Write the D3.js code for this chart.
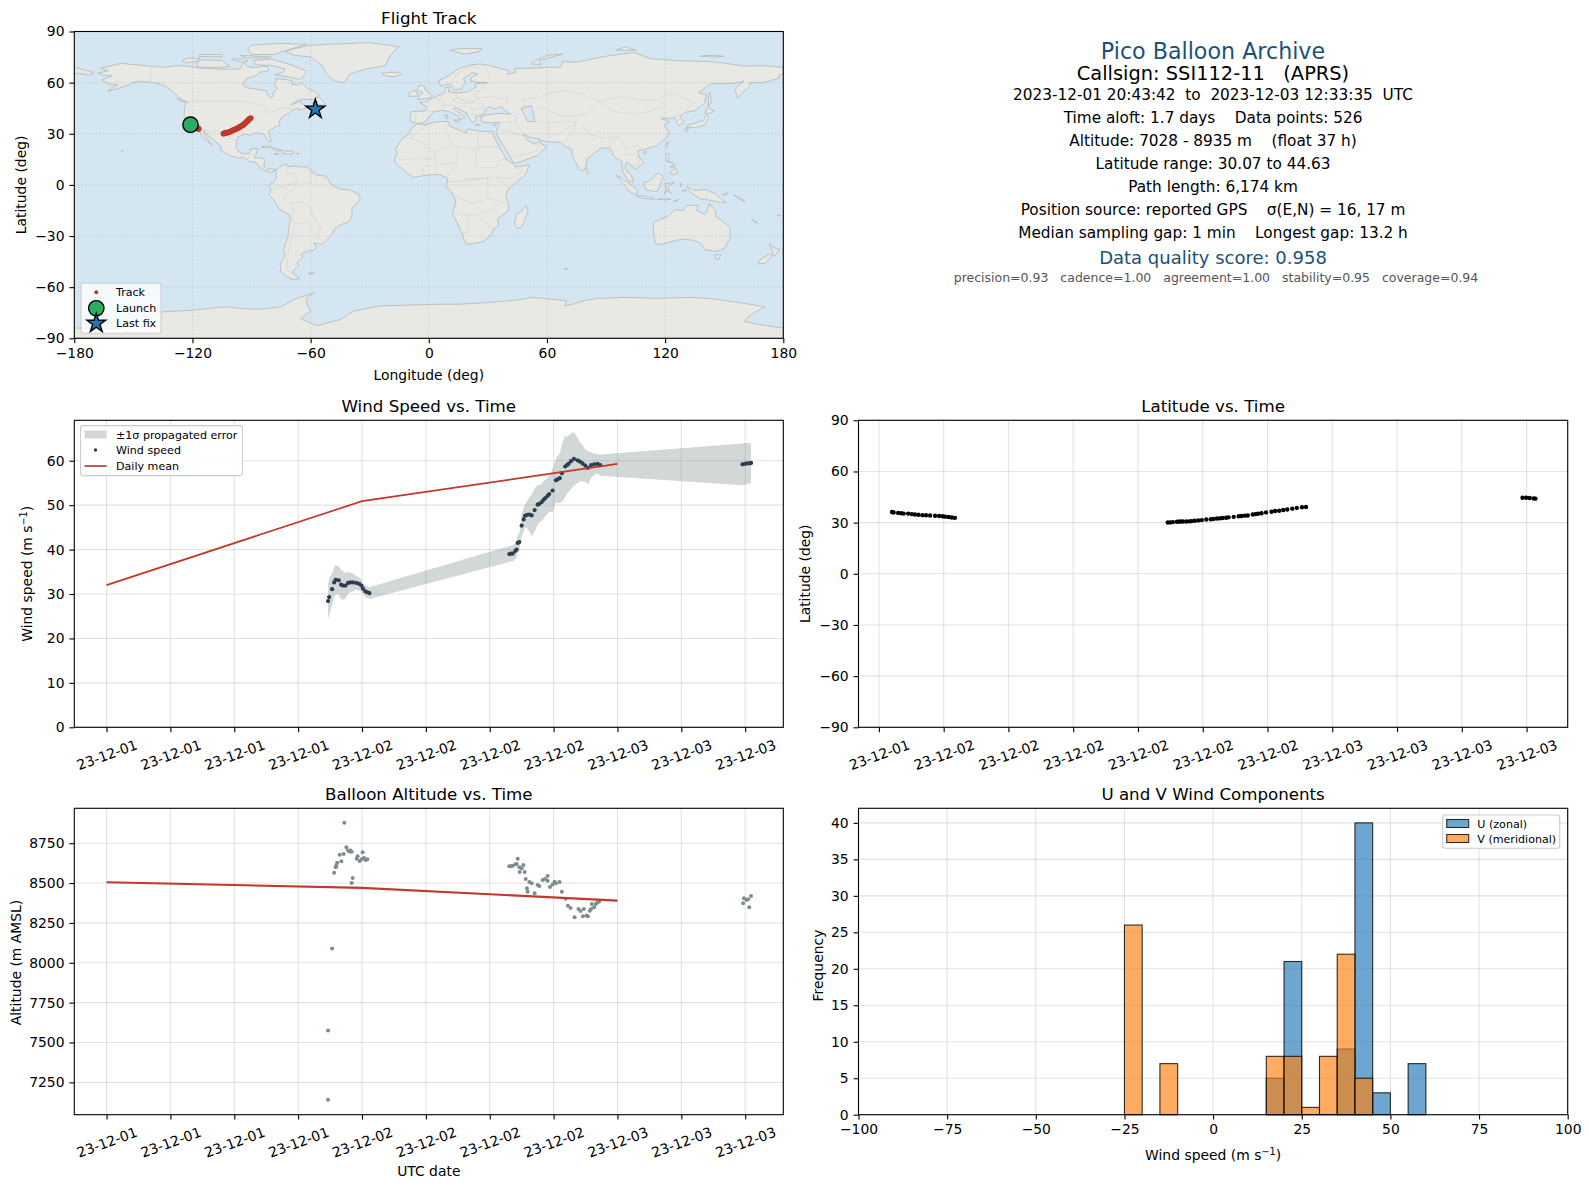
<!DOCTYPE html>
<html lang="en">
<head>
<meta charset="UTF-8">
<title>Pico Balloon Archive</title>
<style>
  body { margin: 0; background: #fff; }
  text { font-family: "DejaVu Sans", sans-serif; fill: #000; }
</style>
</head>
<body>
<div id="chart"></div>
<script src="https://cdn.jsdelivr.net/npm/d3@7"></script>
<script>
// hours since 2023-12-01 00:00 UTC for each sample
const sampleHours = [20.81,20.91,21.19,21.38,21.53,21.81,22.03,22.22,22.44,22.69,22.91,23.16,23.47,23.72,23.94,24.09,24.31,24.5,24.69,
  37.84,38.0,38.16,38.41,38.53,38.63,38.78,39.0,39.19,39.31,39.5,39.72,39.94,40.22,40.5,40.66,40.88,41.06,41.22,41.44,41.59,41.91,42.22,42.38,42.59,42.78,43.09,43.25,43.41,43.63,43.91,44.25,44.47,44.72,44.97,45.22,45.53,45.81,46.13,46.38,
  59.75,59.97,60.19,60.44,60.55];
const windSpeed = [28.4,29.3,31.1,32.6,33.2,33.1,32.1,31.9,31.9,32.5,32.6,32.6,32.5,32.3,31.9,31.2,30.6,30.4,30.2,
  39.0,39.1,39.1,39.7,40.0,41.5,41.7,45.4,46.8,47.6,47.8,47.9,47.7,48.9,50.1,50.3,50.7,51.2,51.6,52.1,52.5,53.3,55.6,55.8,56.1,57.2,58.7,59.0,59.3,59.9,60.4,60.1,59.8,59.4,58.9,58.4,59.0,59.2,59.3,59.0,
  59.2,59.3,59.4,59.4,59.5];
const windSigma = [3.9,4.2,3.6,3.4,3.2,3.2,3.3,3.2,2.9,2.5,2.2,2.0,1.5,1.5,1.3,1.1,1.3,1.3,1.3,
  1.8,1.8,1.8,1.8,1.8,1.9,1.9,2.6,2.6,2.6,3.0,3.9,4.7,4.9,4.5,4.2,4.2,4.2,4.1,4.1,4.0,4.9,4.9,5.3,5.6,6.5,6.9,6.4,6.4,6.3,6.0,5.1,4.4,4.1,3.7,3.7,2.9,2.4,2.2,2.4,
  4.7,4.7,4.6,4.5,4.5];
const latitudes = [36.2,35.9,35.7,35.5,35.3,35.3,35.0,34.8,34.6,34.4,34.3,34.2,34.0,33.9,33.7,33.5,33.3,33.0,32.8,
  30.07,30.15,30.3,30.5,30.6,30.7,30.7,30.7,30.75,30.9,31.1,31.3,31.5,31.8,32.0,32.2,32.4,32.5,32.7,32.9,33.1,33.4,33.7,33.9,34.1,34.2,34.8,35.0,35.2,35.5,36.0,36.4,36.8,37.0,37.4,37.7,38.2,38.6,39.0,39.2,
  44.63,44.6,44.4,44.2,44.1];
const longitudes = [-121,-120.8,-120.6,-120.4,-120.1,-119.9,-119.6,-119.4,-119.1,-118.9,-118.7,-118.5,-118.3,-118.1,-117.8,-117.6,-117.3,-117.1,-116.8,
  -104.3,-104,-103.7,-103.3,-103,-102.8,-102.5,-102.2,-101.8,-101.5,-101.1,-100.8,-100.4,-100,-99.6,-99.2,-98.9,-98.5,-98.1,-97.7,-97.3,-96.9,-96.5,-96.2,-95.8,-95.5,-95,-94.6,-94.3,-93.9,-93.5,-93.1,-92.8,-92.5,-92.2,-91.9,-91.5,-91.2,-90.8,-90.4,
  -58.6,-58.2,-57.9,-57.7,-57.4];

const launchPoint = [-121, 35.3];
const lastFixPoint = [-57.6, 44.4];

// daily means
const dailyHours = [0, 24, 48];
const dailyWind = [32, 50.9, 59.3];
const dailyAltitude = [8505, 8470, 8390];

const altitudeHours = [20.81,20.81,21.19,21.38,21.53,21.59,21.66,21.91,22.06,22.28,22.53,22.69,22.84,22.91,23.03,23.5,23.59,23.78,23.97,24.06,24.19,24.34,24.5,23.12,23.03,
  37.84,38.0,38.16,38.41,38.53,38.63,38.78,38.81,39.0,39.16,39.28,39.38,39.72,39.94,40.22,39.5,39.56,40.5,40.66,40.97,41.19,41.44,41.44,41.66,41.91,42.09,42.22,42.56,42.78,43.13,43.34,43.59,43.97,44.34,44.53,44.75,44.84,45.09,45.22,45.41,45.53,45.59,45.81,45.97,46.13,46.28,
  59.81,59.88,60.13,60.28,60.55,60.38];
const altitudes = [7140,7575,8090,8564,8599,8610,8627,8677,8637,8683,8725,8704,8698,8704,8696,8652,8668,8639,8650,8694,8658,8645,8650,8532,8501,
  8606,8606,8608,8616,8620,8652,8599,8570,8593,8614,8570,8526,8507,8499,8436,8468,8445,8488,8482,8520,8526,8545,8514,8476,8491,8509,8499,8507,8445,8401,8357,8344,8286,8338,8325,8292,8338,8296,8292,8327,8338,8369,8349,8369,8380,8384,
  8373,8404,8394,8398,8419,8348];
const topAltitude = [[22.34, 8878]];

// histogram counts, left bin edge in m/s
const binWidth = 5;
const uEdges = [15, 20, 35, 40, 45, 55];
const uCounts = [5, 21, 9, 40, 3, 7];
const vEdges = [-25, -15, 15, 20, 25, 30, 35, 40];
const vCounts = [26, 7, 8, 8, 1, 8, 22, 5];

const infoLines = [
  "Pico Balloon Archive",
  "Callsign: SSI112-11   (APRS)",
  "2023-12-01 20:43:42  to  2023-12-03 12:33:35  UTC",
  "Time aloft: 1.7 days    Data points: 526",
  "Altitude: 7028 - 8935 m    (float 37 h)",
  "Latitude range: 30.07 to 44.63",
  "Path length: 6,174 km",
  "Position source: reported GPS    σ(E,N) = 16, 17 m",
  "Median sampling gap: 1 min    Longest gap: 13.2 h",
  "Data quality score: 0.958",
  "precision=0.93   cadence=1.00   agreement=1.00   stability=0.95   coverage=0.94"
];

// coastlines, rough lon/lat outlines
const landPolygons = [
  // North + Central America
  [[-168,65.6],[-162.5,67],[-166.8,68.3],[-156.5,71.3],[-148,70.4],[-141,69.6],[-135,69],[-128,70],[-124,69.8],[-115,68.5],[-108,68],[-102,67.8],[-96,68],[-94,71.8],[-92,69.5],[-88,68.8],[-85,69.5],[-82,69.5],[-81.5,67],[-86,66],[-87,64.5],[-93,62],[-94.5,59],[-92.5,57],[-88,56.3],[-82.5,55.2],[-82,52.9],[-80,51.2],[-79,52],[-79,54.5],[-76.8,56.5],[-78.5,58.8],[-77.5,60.5],[-78,62.4],[-73,62],[-69.5,61],[-69.5,59],[-66,58.8],[-64.5,60.3],[-61.5,56.5],[-57.5,54.5],[-55.8,52.5],[-59,50],[-64,50.3],[-67,49.3],[-70,47],[-65,49],[-64.5,47.5],[-61,46],[-60,46],[-63.5,44.7],[-66,43.8],[-66,45],[-70,43.7],[-70.7,42],[-74,40.6],[-75.5,38],[-76,36.8],[-75.5,35.2],[-78,33.9],[-81,32],[-81.3,30],[-80,26.8],[-80.3,25.2],[-81.8,26],[-82.8,28],[-84,30],[-86,30.4],[-89,30.3],[-90,29.2],[-93.5,29.7],[-97,28],[-97.5,25],[-97.8,22.3],[-96,19],[-94,18.2],[-91,18.7],[-90.5,21],[-87,21.5],[-87.7,18],[-88.7,16],[-86,15.9],[-83.3,15],[-83.7,11],[-82,9],[-79.8,9.5],[-77.4,8.7],[-78.5,8.5],[-80,7.3],[-83,8.3],[-85.7,10],[-87.5,13],[-91.5,14],[-94,16],[-97,15.8],[-101.5,17.5],[-105.5,20],[-105.5,22.5],[-109,26],[-112.5,29.5],[-114.7,31.7],[-113,28],[-110,23],[-112,25],[-115,28.5],[-117.2,32.5],[-120.5,34.5],[-122.5,37.5],[-124.3,40.4],[-124,46],[-122.5,48.5],[-125,50],[-128,52.5],[-130.5,55],[-134,58],[-139,59.8],[-146,60.8],[-151,60],[-152,58.8],[-158,56.5],[-163,54.9],[-158,58.7],[-162,59],[-166,61.5],[-161,64],[-166,64.5]],
  // arctic Canada and Greenland
  [[-80,73.7],[-71,71],[-67,69],[-62,66.8],[-64,63],[-66,62],[-72,63.5],[-78,64.5],[-74,66],[-73,68],[-79,70],[-88,70.5],[-89,73]],
  [[-117,69],[-105,69],[-101,69.5],[-105,73],[-115,73.5],[-118,71.5]],
  [[-124,71.5],[-118,72.5],[-116,74],[-122,74.5],[-125,73]],
  [[-90,76.5],[-78,76.5],[-75,78],[-65,81.5],[-62,82.5],[-75,83],[-90,82],[-92,80]],
  [[-96,76],[-80,75],[-81,74.5],[-92,74.5]],
  [[-117,75.5],[-105,75],[-105,76.5],[-116,76.5]],
  [[-100,73.8],[-95,72],[-92,72.8],[-94,74]],
  [[-73,78.2],[-68,76],[-60,75],[-54,70],[-52,65],[-48,61],[-43,59.9],[-40,65],[-32,68],[-22,70],[-20,75],[-18,78],[-15,81],[-30,83.5],[-50,82.5],[-60,82],[-68,80]],
  [[-59,47.7],[-53,46.7],[-52.7,48],[-55.7,51.5],[-57.5,50.7]],
  [[-128,50.8],[-123.5,48.4],[-125,48.8]],
  [[-24,65.5],[-22,64],[-18,63.4],[-14,64.5],[-15,66.2],[-20,66]],
  [[-85,22],[-82,23.1],[-77,21],[-74.2,20.2],[-77.7,19.9],[-80,21.8],[-83,22]],
  [[-74.4,18.5],[-73,19.9],[-69,19.7],[-68.4,18.6],[-71,18]],
  [[-78.3,18.3],[-76.3,18.2],[-77,17.8]],
  [[-67.2,18.5],[-65.7,18.4],[-66.5,18]],
  [[-156,20.2],[-155,19.7],[-155.7,19]],
  [[-180,69],[-175,67.5],[-170,66],[-172.5,64.5],[-178,65.5],[-180,65]],
  // South America
  [[-77.4,8.7],[-75,11],[-72,12.2],[-71.5,10.8],[-68,11],[-64,10.5],[-62,10.7],[-60,8.5],[-57,6],[-52,5],[-50,1],[-48,-1],[-44,-2.7],[-40,-2.9],[-37,-4.8],[-35,-6],[-35,-9],[-37.5,-12],[-39,-14],[-39,-18],[-41,-22],[-44,-23],[-48,-26],[-48.7,-28.5],[-52,-32.5],[-54,-34.8],[-57,-34.5],[-58.3,-34],[-57,-36.5],[-58,-38.3],[-62,-39],[-65,-41],[-64,-42.7],[-67,-45.5],[-66,-47.5],[-69,-50.5],[-68.5,-52.5],[-65.5,-55],[-69,-55.5],[-72,-54],[-75,-51],[-75.5,-46.5],[-73,-42],[-73.7,-38],[-71.5,-30],[-70.3,-20],[-71,-17.5],[-76,-14],[-78,-10],[-81.2,-5.5],[-80,-3],[-81,-1],[-80,1],[-78.8,1.7],[-77.3,4],[-77.5,7],[-78,8.5]],
  [[-61,-51.8],[-58,-51.5],[-58.5,-52.3],[-60.5,-52.3]],
  // Africa
  [[-5.9,35.8],[-2,35.2],[3,36.9],[10,37.3],[10.5,34.5],[15,32.4],[19,30.4],[20,32.8],[25,31.6],[30,31.2],[32.3,31.2],[32.5,29.8],[35,24],[37.3,19],[39.5,15],[43.2,12],[44,10.5],[51.2,11.8],[49,6],[44,1],[40,-3],[39,-6],[40.5,-11],[40.5,-15],[35,-20],[35.5,-24],[32.8,-26],[32,-29],[28,-33],[25,-34],[20,-34.8],[18.4,-34],[17,-29],[14.5,-22.5],[12,-17],[13.7,-10],[12,-5],[9,-1],[9.7,3.5],[8.5,4.6],[5,6],[1,6],[-4,5.2],[-7.5,4.4],[-11,6.8],[-13.5,9.5],[-16.7,12.5],[-17.5,14.7],[-16,19],[-17,21],[-13,27.8],[-10,30],[-9,33]],
  [[49.3,-12],[50.5,-15.5],[47,-25],[45,-25.5],[43.5,-23],[44.5,-17],[47,-15.5]],
  // Eurasia
  [[-9,37],[-9.5,38.7],[-9,43],[-2,43.4],[-1,46],[-4.7,48.3],[-1.5,48.7],[2,51],[4,52],[8,54],[8.5,57],[10.5,57.5],[10,54.5],[14,54],[19,54.4],[21,55.5],[24,57.3],[23.5,59.3],[30,60],[25,60.2],[21.5,61],[21.5,63],[25,65],[22,65.8],[17.5,62.3],[18.5,60],[16.5,56.5],[13,55.5],[11.5,58.5],[10.5,59.3],[6,58],[5,61],[10,64],[15,68],[20,70],[26,71],[31,70],[41,66.8],[40,64.8],[44,66],[44,68.3],[54,68.5],[60,69],[67,69],[68,72.5],[73,72],[75,72],[81,73.5],[90,75.5],[104,77.7],[113,74],[127,72.8],[140,72.5],[150,71.5],[160,69.7],[170,70],[180,69],[180,65],[178,64.5],[177.5,62.5],[170,60],[163,60],[163,58],[156.7,51],[155.5,56],[160,61],[155,59.5],[143,59.3],[137,54],[141,53],[140,48],[135,43.5],[130,42.5],[127.5,39.8],[129.5,37],[127,34.5],[126,36.8],[125,39.5],[121,39],[118,39],[122,37],[119.5,35],[122,31],[121,28],[116,23],[110,21],[106,20],[107,16],[109,13],[105,9],[103,11],[100.5,13.5],[99.5,10],[103,5],[104,1.3],[101,3],[98.5,8],[98,14],[94.5,16],[92,21.5],[88,21.7],[85,19.5],[80,15],[80,11],[78,8],[76,10],[73,17],[72.5,21],[69,22.5],[67,25],[61,25.2],[57,26],[56.5,27],[51,28],[48,30],[50,26.5],[51.5,25],[54,24],[56.3,26],[56.5,24.5],[59.8,22.5],[55,17],[45,13],[43.2,12.8],[39,21],[35,28],[34.2,31.3],[35.8,35.5],[36,36.7],[30,36.3],[27,37],[26.3,39.5],[29,41],[35,42],[41.5,41.5],[38,44.5],[37,46],[33.5,44.5],[30.5,46],[28,43],[28,41.3],[26,40.7],[23.5,40],[24,38],[22.5,36.5],[20,39.7],[19.4,42],[13.5,45.5],[12.3,44.5],[18.3,40],[16,38],[15.7,40],[10.5,43],[7,43.8],[3,43],[0,40],[-2,36.8],[-5.5,36]],
  [[130.9,34],[135,33.6],[140,35],[142,39.5],[141,41.3],[139.5,38],[136.5,36.8],[132,35.2]],
  [[140,42],[141.5,45.4],[145,43.5],[143,42]],
  [[130,33],[131.8,33.5],[131,31]],
  [[142,46],[143.5,49],[142.7,54.3],[142,52]],
  [[120.2,23],[121.5,25.3],[121,22]],
  [[108.7,19],[110.5,20],[110,18.2]],
  [[80,9.7],[81.8,7.5],[80.5,6],[79.8,8]],
  [[95.3,5.5],[98,4],[104,-1],[106,-3],[105.5,-5.9],[102,-4],[98.5,1]],
  [[105.5,-6.5],[108.5,-6.5],[114.5,-7.7],[114.5,-8.7],[106.5,-7.5]],
  [[109,1.5],[111,1.7],[116.5,7],[119,5],[117.7,1],[116,-4],[110.5,-3],[109.3,-0.5]],
  [[119.5,-5.5],[120.5,-2.5],[120,0.7],[125,1.5],[121,-1],[123,-5],[121,-3]],
  [[120.5,18.5],[122.3,18.3],[121.5,14],[124,13],[120.5,14]],
  [[122,7],[125.5,9.8],[126.5,7],[124,6]],
  [[122.5,10.5],[125,12.3],[125,10.5]],
  [[116,-8.4],[119,-8.3],[123,-8.3],[120,-8.9]],
  [[124,-10],[127,-8.4],[125,-9.5]],
  [[127.5,1.5],[128.5,0.5],[128,-1]],
  [[129,-3],[131,-3.2],[128.5,-3.6]],
  [[131,-0.8],[135,-3.3],[141,-2.7],[146,-5.5],[150.8,-10.5],[147,-10],[143,-9],[138,-8.3],[132.5,-4]],
  [[149,-5.7],[152,-4.2],[151,-6]],
  [[154.5,-5.5],[157,-7],[160,-9],[160.5,-10],[157,-8]],
  [[114,-22],[114,-26],[115,-34.3],[118,-35],[124,-33],[129,-31.7],[134,-32.5],[138,-34],[140,-38],[146,-39],[150,-37.5],[153,-31],[153,-25],[149,-21],[146,-19],[145.3,-15],[142.5,-10.8],[141.5,-15],[140,-17.5],[136,-15],[136.7,-12],[131,-12],[129,-15],[125,-14.5],[122,-18],[117,-20.5]],
  [[145,-41],[148.2,-41],[147.5,-43.5],[146,-43.5]],
  [[172.8,-34.5],[175.5,-37],[178.3,-37.7],[176,-41.5],[174.8,-41.3],[174.5,-39]],
  [[172.7,-40.6],[174.2,-41.7],[170.8,-46],[167,-46.3],[168,-44.2]],
  [[164,-20.2],[167,-22.3],[165.5,-21.7]],
  [[177,-17.5],[178.6,-18],[177.5,-18.3]],
  [[68.8,-49.2],[70.5,-49.2],[69.5,-49.8]],
  [[-5.5,50],[1.4,51.2],[1.7,52.7],[-2,56],[-2,57.7],[-5,58.6],[-6,56],[-3,54],[-5,52]],
  [[-10,52],[-6,52],[-5.6,54.7],[-8,55.2],[-10,54]],
  [[11,79],[18,76.7],[25,78],[27,80],[16,80]],
  [[52,71],[57,70.6],[56,73],[68,76.8],[60,76],[54,73]],
  [[95,79],[105,79],[100,81]],
  [[138,75.5],[145,75],[150,75.5],[142,76]],
  [[12.5,38],[15.5,38.2],[15,36.7]],
  [[8.3,41],[9.7,41],[9.5,39],[8.5,39]],
  [[23.5,35.4],[26.2,35.2],[24.5,35]],
  [[32.5,35],[34.5,35.6],[33.5,34.6]],
  // Antarctica
  [[-180,-84],[-155,-84],[-148,-78],[-135,-74.5],[-120,-73.5],[-103,-71.5],[-95,-72.5],[-85,-73],[-75,-71.5],[-68,-67],[-58,-63.2],[-62,-66],[-62,-70],[-60,-74],[-65,-78.5],[-57,-82.6],[-45,-79],[-38,-74],[-25,-71],[-10,-70.5],[5,-70],[16,-70],[30,-69],[45,-67.5],[53,-66],[62,-67],[70,-68],[69,-71],[73,-70],[80,-67.5],[87,-66.5],[100,-66],[115,-66.5],[134,-66],[145,-67],[160,-69.5],[170.7,-71.4],[163,-76.5],[160,-80],[168,-82],[180,-84],[180,-90],[-180,-90]]
];
const inlandSeas = [
  [[47,45],[52,46.5],[53,42],[54,37],[50,37.3],[49,40],[47.5,43]]
];
const countryBorders = [
  [[-141,69.6],[-141,60.3],[-135,59.5],[-130,55.5]],
  [[-123,49],[-95,49],[-89,48],[-83,46],[-82.5,42.5],[-79,43],[-75,45],[-71,45],[-69,47.3],[-67.5,45.5]],
  [[-117,32.5],[-114.8,32.5],[-111,31.3],[-106.5,31.7],[-103,29],[-99.5,27],[-97.3,25.9]],
  [[-92,14.6],[-91,17.5],[-89,17.9],[-88.3,18.4]],[[-89.2,14],[-87.5,15.8]],[[-85,11],[-83.7,11]],
  [[-71.5,12],[-72.5,7.5],[-67.5,6],[-67,1.5]],
  [[-60,8],[-60,1],[-67,1.5],[-70,-4],[-74,-7.5],[-70.5,-11],[-65,-10],[-60,-13.5],[-58,-20],[-54.5,-25.5],[-57.5,-30],[-53.5,-33.5]],
  [[-70,-18],[-68,-23],[-70,-33],[-71.5,-40],[-72,-50],[-69,-52]],
  [[-69,-11],[-69,-17],[-70,-18]],[[-80,-3.5],[-75,-1],[-79,1.4]],[[-68,-23],[-62,-22],[-57.5,-25.3],[-54.5,-25.5]],
  [[-57,6],[-57,2]],[[-52,5],[-54,2.3]],[[-67,1.5],[-75,-1]],[[-70,-4],[-75,-1]],
  [[-8.7,27.3],[-4,25],[3,19],[12,23.5],[25,20],[25,31.5]],[[-13,27.7],[-8.7,27.3],[-8.7,30]],[[-1,35],[-8.7,27.3]],[[10,37],[8,32],[9.5,30],[12,23.5]],
  [[25,22],[36.8,22]],[[24,20],[24,10],[34,10],[36,14.5],[39,15]],[[3,19],[4,12],[14,13],[15,23]],[[-17,15.5],[-12,15],[-5,15.5],[3,15]],[[4,12],[3,6.3]],[[-3,5],[-3,11],[2,11.5]],
  [[9,4.5],[14.5,12.5]],[[14,2],[30,4],[34,4.5],[42,4],[48,8],[43,11]],[[9.7,2.2],[16,2],[18,3.5],[30,4]],[[30,4],[30,-8],[40,-10.7]],[[12,-5.5],[22,-11],[30,-8]],
  [[12,-17.3],[25,-17.8],[33,-14],[34.5,-11.5]],[[20,-18],[20,-28],[17,-28.7]],[[25,-18],[29,-22.3],[32,-26]],[[34,4.5],[41,-1.7]],
  [[3,43],[-2,43.3]],[[-9,42],[-6.5,42],[-7,37.3]],[[2.5,51],[6,50],[8,49],[7,46.5],[7,44]],[[7,46.5],[13.5,46.7],[13.7,45.5]],[[7,54],[6.2,51]],
  [[14,54],[14.5,51],[12,50],[13.7,48.5],[17,48],[23,48],[24,51],[23,54.3]],[[14.5,51],[18.8,49.5],[23,49]],[[20,39.7],[22,41],[26,41.7],[28,42]],[[22,41],[22.5,44.5],[29,45.3]],
  [[17,48],[19,46],[22.5,44.5]],[[13.7,45.5],[19,46]],[[28,45.5],[27,48],[24,48]],[[24,51],[32,52],[40,50],[39,47]],[[23,54.3],[28,56],[28,59.5]],[[31,62],[29,69.5]],[[20.5,69],[25,69],[28,70]],[[12,60],[14,65],[20,69]],
  [[36,36.7],[44,37],[44.5,39.5],[41.5,41.5]],[[44.5,37],[46,33],[48,30]],[[42,37],[41,34],[39,32],[36,32.5]],[[35,29.5],[39,32]],[[39,32],[47,29],[48.5,28.5]],[[43,16.5],[52,19],[55,20],[56,24.5]],
  [[49,46],[47,50],[55,51],[61,54],[70,55],[77,53.5],[87,49]],[[87,49],[98,52],[107,50],[117,49.8],[120,47],[112,43],[105,41.7],[96,42.7],[91,45.5],[87,49]],[[117,49.8],[120,53.3],[126,53],[135,48.3],[131,45],[130.5,42.5]],
  [[53,42],[56,45],[58,45.5],[61,43.5],[66,41],[73,40],[80,42],[87,49]],[[54,37.5],[61,36.5],[67,37.3],[75,37]],[[61,36.5],[61,30],[66,29.5],[70,33],[75,37]],[[61.5,25],[61,30]],
  [[68.5,23.8],[71,28],[74,32],[75,37]],[[78,35],[81,30],[88,27.5],[97,28.5]],[[88,27.5],[88,22]],[[92,22],[92,25],[97,28.5]],[[97,28.5],[99,22],[101,21.5],[105,23],[108,21.6]],
  [[101,21.5],[100,18],[105,18],[107,15],[106,11],[102.5,12]],[[99,11],[101,6]],[[124.5,40],[130.5,42.5]],[[126.5,38],[128.5,38.5]],[[109.5,1.5],[115,3.5],[117.5,4.2]],[[141,-2.6],[141,-9]]
];

const mapLonTicks = [-180, -120, -60, 0, 60, 120, 180];
const mapLatTicks = [-90, -60, -30, 0, 30, 60, 90];
const latTicks = [-90, -60, -30, 0, 30, 60, 90];
const windTicks = [0, 10, 20, 30, 40, 50, 60];
const altTicks = [7250, 7500, 7750, 8000, 8250, 8500, 8750];
const histXTicks = [-100, -75, -50, -25, 0, 25, 50, 75, 100];
const histYTicks = [0, 5, 10, 15, 20, 25, 30, 35, 40];

const RED = "#c0392b", NAVY = "#2c3e50", GREY = "#7f8c8d", TITLE_BLUE = "#1a5276";

const svg = d3.select("#chart").append("svg")
  .attr("width", 1589).attr("height", 1189)
  .style("display", "block");

const toDate = h => new Date(Date.UTC(2023, 11, 1) + h * 3600000);
const fmtDate = d3.utcFormat("%y-%m-%d");

// panel boxes
const leftCol = [74.3, 783.3], rightCol = [858.5, 1567.7];
const row1 = [31.5, 338.3], row2 = [420.3, 727.3], row3 = [808.3, 1114.7];

function addFrame(xr, yr) {
  svg.append("rect").attr("x", xr[0]).attr("y", yr[0])
    .attr("width", xr[1] - xr[0]).attr("height", yr[1] - yr[0])
    .attr("fill", "none").attr("stroke", "#000").attr("stroke-width", 1.1);
}

function addGrid(g, x, y, xTicks, yTicks, dash, opacity) {
  const [x0, x1] = x.range(), [y1, y0] = y.range();
  g.selectAll(".vg").data(xTicks).join("line").attr("class", "vg")
    .attr("x1", d => x(d)).attr("x2", d => x(d)).attr("y1", y0).attr("y2", y1)
    .attr("stroke", "#b0b0b0").attr("stroke-width", 1.1).attr("stroke-opacity", opacity).attr("stroke-dasharray", dash);
  g.selectAll(".hg").data(yTicks).join("line").attr("class", "hg")
    .attr("x1", x0).attr("x2", x1).attr("y1", d => y(d)).attr("y2", d => y(d))
    .attr("stroke", "#b0b0b0").attr("stroke-width", 1.1).attr("stroke-opacity", opacity).attr("stroke-dasharray", dash);
}

function addAxes(x, y, xTicks, yTicks, xFormat, rotated) {
  const yBase = y.range()[0], xBase = x.range()[0];
  const gx = svg.append("g").attr("transform", `translate(0,${yBase})`)
    .call(d3.axisBottom(x).tickValues(xTicks).tickFormat(xFormat).tickSize(4.9).tickPadding(4.9).tickSizeOuter(0));
  const gy = svg.append("g").attr("transform", `translate(${xBase},0)`)
    .call(d3.axisLeft(y).tickValues(yTicks).tickFormat(d3.format("d")).tickSize(4.9).tickPadding(4.9).tickSizeOuter(0));
  [gx, gy].forEach(g => {
    g.select(".domain").remove();
    g.selectAll(".tick line").attr("stroke", "#000").attr("stroke-width", 1.1);
    g.selectAll("text").attr("font-size", 13.9).attr("font-family", "DejaVu Sans").attr("fill", "#000");
  });
  if (rotated) {
    gx.selectAll("text").attr("y", 0).attr("dy", "0.35em")
      .attr("text-anchor", "middle").attr("transform", "translate(0,27.6) rotate(-20)");
  }
}

function title(xr, yr, s) {
  svg.append("text").attr("x", (xr[0] + xr[1]) / 2).attr("y", yr[0] - 8)
    .attr("text-anchor", "middle").attr("font-size", 16.67).text(s);
}
function xLabel(xr, yPos, s, sup) {
  const t = svg.append("text").attr("x", (xr[0] + xr[1]) / 2).attr("y", yPos)
    .attr("text-anchor", "middle").attr("font-size", 13.9).text(s);
  if (sup) addSup(t, sup);
}
function yLabel(xPos, yMid, s, sup) {
  const t = svg.append("text")
    .attr("transform", `translate(${xPos},${yMid}) rotate(-90)`)
    .attr("text-anchor", "middle").attr("font-size", 13.9).text(s);
  if (sup) addSup(t, sup);
}
function addSup(t, sup) {
  t.append("tspan").attr("font-size", 9.7).attr("dy", -5).text(sup);
  t.append("tspan").attr("font-size", 13.9).attr("dy", 5).text(")");
}

function legendBox(x, y, w, h, op) {
  svg.append("rect").attr("x", x).attr("y", y).attr("width", w).attr("height", h).attr("rx", 2.5)
    .attr("fill", "#fff").attr("fill-opacity", op).attr("stroke", "#ccc").attr("stroke-width", 1.1);
}
function legendText(x, y, s) {
  svg.append("text").attr("x", x).attr("y", y).attr("dy", "0.35em").attr("font-size", 11.1).text(s);
}

// ---- Flight track map
{
  const x = d3.scaleLinear().domain([-180, 180]).range(leftCol);
  const y = d3.scaleLinear().domain([-90, 90]).range([row1[1], row1[0]]);
  svg.append("clipPath").attr("id", "mapclip").append("rect")
    .attr("x", leftCol[0]).attr("y", row1[0]).attr("width", leftCol[1] - leftCol[0]).attr("height", row1[1] - row1[0]);
  const g = svg.append("g").attr("clip-path", "url(#mapclip)");
  g.append("rect").attr("x", leftCol[0]).attr("y", row1[0]).attr("width", leftCol[1] - leftCol[0]).attr("height", row1[1] - row1[0])
    .attr("fill", "#d4e6f1");
  const geo = d3.line().x(d => x(d[0])).y(d => y(d[1]));
  g.selectAll(".land").data(landPolygons).join("path").attr("class", "land")
    .attr("d", d => geo(d) + "Z").attr("fill", "#e8e8e4").attr("stroke", "#b4b8b8").attr("stroke-width", 0.8);
  g.selectAll(".sea").data(inlandSeas).join("path").attr("class", "sea")
    .attr("d", d => geo(d) + "Z").attr("fill", "#d4e6f1").attr("stroke", "#b4b8b8").attr("stroke-width", 0.8);
  g.selectAll(".border").data(countryBorders).join("path").attr("class", "border")
    .attr("d", geo).attr("fill", "none").attr("stroke", "#d6d6d2").attr("stroke-width", 0.7);
  addGrid(g, x, y, mapLonTicks, mapLatTicks, "2,1.5", 0.3);
  g.selectAll(".trk").data(sampleHours).join("circle").attr("class", "trk")
    .attr("cx", (d, i) => x(longitudes[i])).attr("cy", (d, i) => y(latitudes[i])).attr("r", 2.8).attr("fill", RED);
  g.append("circle").attr("cx", x(launchPoint[0])).attr("cy", y(launchPoint[1])).attr("r", 7.7)
    .attr("fill", "#27ae60").attr("stroke", "#000").attr("stroke-width", 1.4);
  g.append("path").attr("d", d3.symbol(d3.symbolStar, 112)())
    .attr("transform", `translate(${x(lastFixPoint[0])},${y(lastFixPoint[1])})`)
    .attr("fill", "#1f77b4").attr("stroke", "#000").attr("stroke-width", 1.4);
  addFrame(leftCol, row1);
  addAxes(x, y, mapLonTicks, mapLatTicks, d3.format("d"));
  title(leftCol, row1, "Flight Track");
  xLabel(leftCol, 379.5, "Longitude (deg)");
  yLabel(26, (row1[0] + row1[1]) / 2, "Latitude (deg)");

  legendBox(81, 283.3, 80, 50, 0.8);
  svg.append("circle").attr("cx", 96.3).attr("cy", 292.3).attr("r", 2).attr("fill", RED);
  svg.append("circle").attr("cx", 96.3).attr("cy", 308.3).attr("r", 7.7).attr("fill", "#27ae60").attr("stroke", "#000").attr("stroke-width", 1.4);
  svg.append("path").attr("d", d3.symbol(d3.symbolStar, 112)()).attr("transform", "translate(96.3,323.3)")
    .attr("fill", "#1f77b4").attr("stroke", "#000").attr("stroke-width", 1.4);
  legendText(116, 292.3, "Track");
  legendText(116, 308.3, "Launch");
  legendText(116, 323.3, "Last fix");
}

// ---- Info block
{
  const infoX = [1213, 1213, 1213, 1213, 1213, 1213, 1213, 1213, 1213, 1213, 1216];
  const infoY = [51.5, 73, 94.2, 117.6, 140.9, 163.4, 186.5, 209.8, 233, 257.4, 277.7];
  const infoSize = [22.2, 19.4, 15.3, 15.3, 15.3, 15.3, 15.3, 15.3, 15.3, 18, 12.5];
  const infoColor = [TITLE_BLUE, "#000", "#000", "#000", "#000", "#000", "#000", "#000", "#000", TITLE_BLUE, "#555"];
  svg.selectAll(".info").data(infoLines).join("text").attr("class", "info")
    .attr("x", (d, i) => infoX[i]).attr("y", (d, i) => infoY[i]).attr("dy", "0.35em")
    .attr("text-anchor", "middle").attr("xml:space", "preserve")
    .style("white-space", "pre")
    .attr("font-size", (d, i) => infoSize[i]).style("fill", (d, i) => infoColor[i]).text(d => d);
}

// ---- Wind speed vs time
{
  const x = d3.scaleUtc().domain([toDate(-3.03), toDate(63.58)]).range(leftCol);
  const y = d3.scaleLinear().domain([0, 69.1]).range([row2[1], row2[0]]);
  const xTicks = d3.utcHour.every(6).range(toDate(0), toDate(61));
  const g = svg.append("g");
  addGrid(g, x, y, xTicks, windTicks, null, 0.35);
  const band = d3.area().x(d => x(toDate(sampleHours[d]))).y0(d => y(windSpeed[d] - windSigma[d])).y1(d => y(windSpeed[d] + windSigma[d]));
  g.append("path").attr("d", band(d3.range(sampleHours.length))).attr("fill", GREY).attr("fill-opacity", 0.35);
  g.selectAll(".pt").data(sampleHours).join("circle").attr("class", "pt")
    .attr("cx", d => x(toDate(d))).attr("cy", (d, i) => y(windSpeed[i])).attr("r", 2.1).attr("fill", NAVY);
  g.append("path").attr("fill", "none").attr("stroke", RED).attr("stroke-width", 1.7)
    .attr("d", d3.line().x(d => x(toDate(d))).y((d, i) => y(dailyWind[i]))(dailyHours));
  addFrame(leftCol, row2);
  addAxes(x, y, xTicks, windTicks, fmtDate, true);
  title(leftCol, row2, "Wind Speed vs. Time");
  yLabel(32, (row2[0] + row2[1]) / 2, "Wind speed (m s", "−1");

  legendBox(80.5, 425.6, 162, 50, 0.8);
  svg.append("rect").attr("x", 84.5).attr("y", 430.5).attr("width", 22).attr("height", 8).attr("fill", GREY).attr("fill-opacity", 0.35);
  svg.append("circle").attr("cx", 95.5).attr("cy", 450).attr("r", 1.7).attr("fill", NAVY);
  svg.append("line").attr("x1", 84.5).attr("x2", 106.5).attr("y1", 466).attr("y2", 466).attr("stroke", RED).attr("stroke-width", 1.7);
  legendText(116, 434.7, "±1σ propagated error");
  legendText(116, 450, "Wind speed");
  legendText(116, 466, "Daily mean");
}

// ---- Latitude vs time
{
  const x = d3.scaleUtc().domain([toDate(18.74), toDate(62.54)]).range(rightCol);
  const y = d3.scaleLinear().domain([-90, 90]).range([row2[1], row2[0]]);
  const xTicks = d3.utcHour.every(4).range(toDate(20), toDate(61));
  const g = svg.append("g");
  addGrid(g, x, y, xTicks, latTicks, null, 0.35);
  g.selectAll(".pt").data(sampleHours).join("circle").attr("class", "pt")
    .attr("cx", d => x(toDate(d))).attr("cy", (d, i) => y(latitudes[i])).attr("r", 2.2).attr("fill", "#000");
  addFrame(rightCol, row2);
  addAxes(x, y, xTicks, latTicks, fmtDate, true);
  title(rightCol, row2, "Latitude vs. Time");
  yLabel(810, (row2[0] + row2[1]) / 2, "Latitude (deg)");
}

// ---- Altitude vs time
{
  const x = d3.scaleUtc().domain([toDate(-3.03), toDate(63.58)]).range(leftCol);
  const y = d3.scaleLinear().domain([7047, 8969]).range([row3[1], row3[0]]);
  const xTicks = d3.utcHour.every(6).range(toDate(0), toDate(61));
  const g = svg.append("g");
  addGrid(g, x, y, xTicks, altTicks, null, 0.35);
  g.selectAll(".pt").data(altitudeHours).join("circle").attr("class", "pt")
    .attr("cx", d => x(toDate(d))).attr("cy", (d, i) => y(altitudes[i])).attr("r", 2).attr("fill", GREY);
  g.selectAll(".top").data(topAltitude).join("circle").attr("class", "top")
    .attr("cx", d => x(toDate(d[0]))).attr("cy", d => y(d[1])).attr("r", 2).attr("fill", GREY);
  g.append("path").attr("fill", "none").attr("stroke", RED).attr("stroke-width", 2.1)
    .attr("d", d3.line().x(d => x(toDate(d))).y((d, i) => y(dailyAltitude[i]))(dailyHours));
  addFrame(leftCol, row3);
  addAxes(x, y, xTicks, altTicks, fmtDate, true);
  title(leftCol, row3, "Balloon Altitude vs. Time");
  xLabel(leftCol, 1176, "UTC date");
  yLabel(21, (row3[0] + row3[1]) / 2 + 1, "Altitude (m AMSL)");
}

// ---- U / V histogram
{
  const x = d3.scaleLinear().domain([-100, 100]).range(rightCol);
  const y = d3.scaleLinear().domain([0, 42]).range([row3[1], row3[0]]);
  const g = svg.append("g");
  addGrid(g, x, y, histXTicks, histYTicks, null, 0.35);
  const bars = (edges, counts, color) => {
    g.append("g").selectAll("rect").data(edges).join("rect")
      .attr("x", d => x(d)).attr("width", d => x(d + binWidth) - x(d))
      .attr("y", (d, i) => y(counts[i])).attr("height", (d, i) => y(0) - y(counts[i]))
      .attr("fill", color).attr("fill-opacity", 0.65)
      .attr("stroke", "#000").attr("stroke-opacity", 0.8).attr("stroke-width", 1.1);
  };
  bars(uEdges, uCounts, "#1f77b4");
  bars(vEdges, vCounts, "#ff7f0e");
  addFrame(rightCol, row3);
  addAxes(x, y, histXTicks, histYTicks, d3.format("d"));
  title(rightCol, row3, "U and V Wind Components");
  xLabel(rightCol, 1159.5, "Wind speed (m s", "−1");
  yLabel(823, (row3[0] + row3[1]) / 2 + 4, "Frequency");

  legendBox(1442.7, 815, 117, 33.3, 0.8);
  [["#1f77b4", 819.5, 824, "U (zonal)"], ["#ff7f0e", 834.5, 839, "V (meridional)"]].forEach(r => {
    svg.append("rect").attr("x", 1446.7).attr("y", r[1]).attr("width", 22).attr("height", 8)
      .attr("fill", r[0]).attr("fill-opacity", 0.65).attr("stroke", "#000").attr("stroke-opacity", 0.8).attr("stroke-width", 1.1);
    legendText(1477.3, r[2], r[3]);
  });
}
</script>
</body>
</html>
